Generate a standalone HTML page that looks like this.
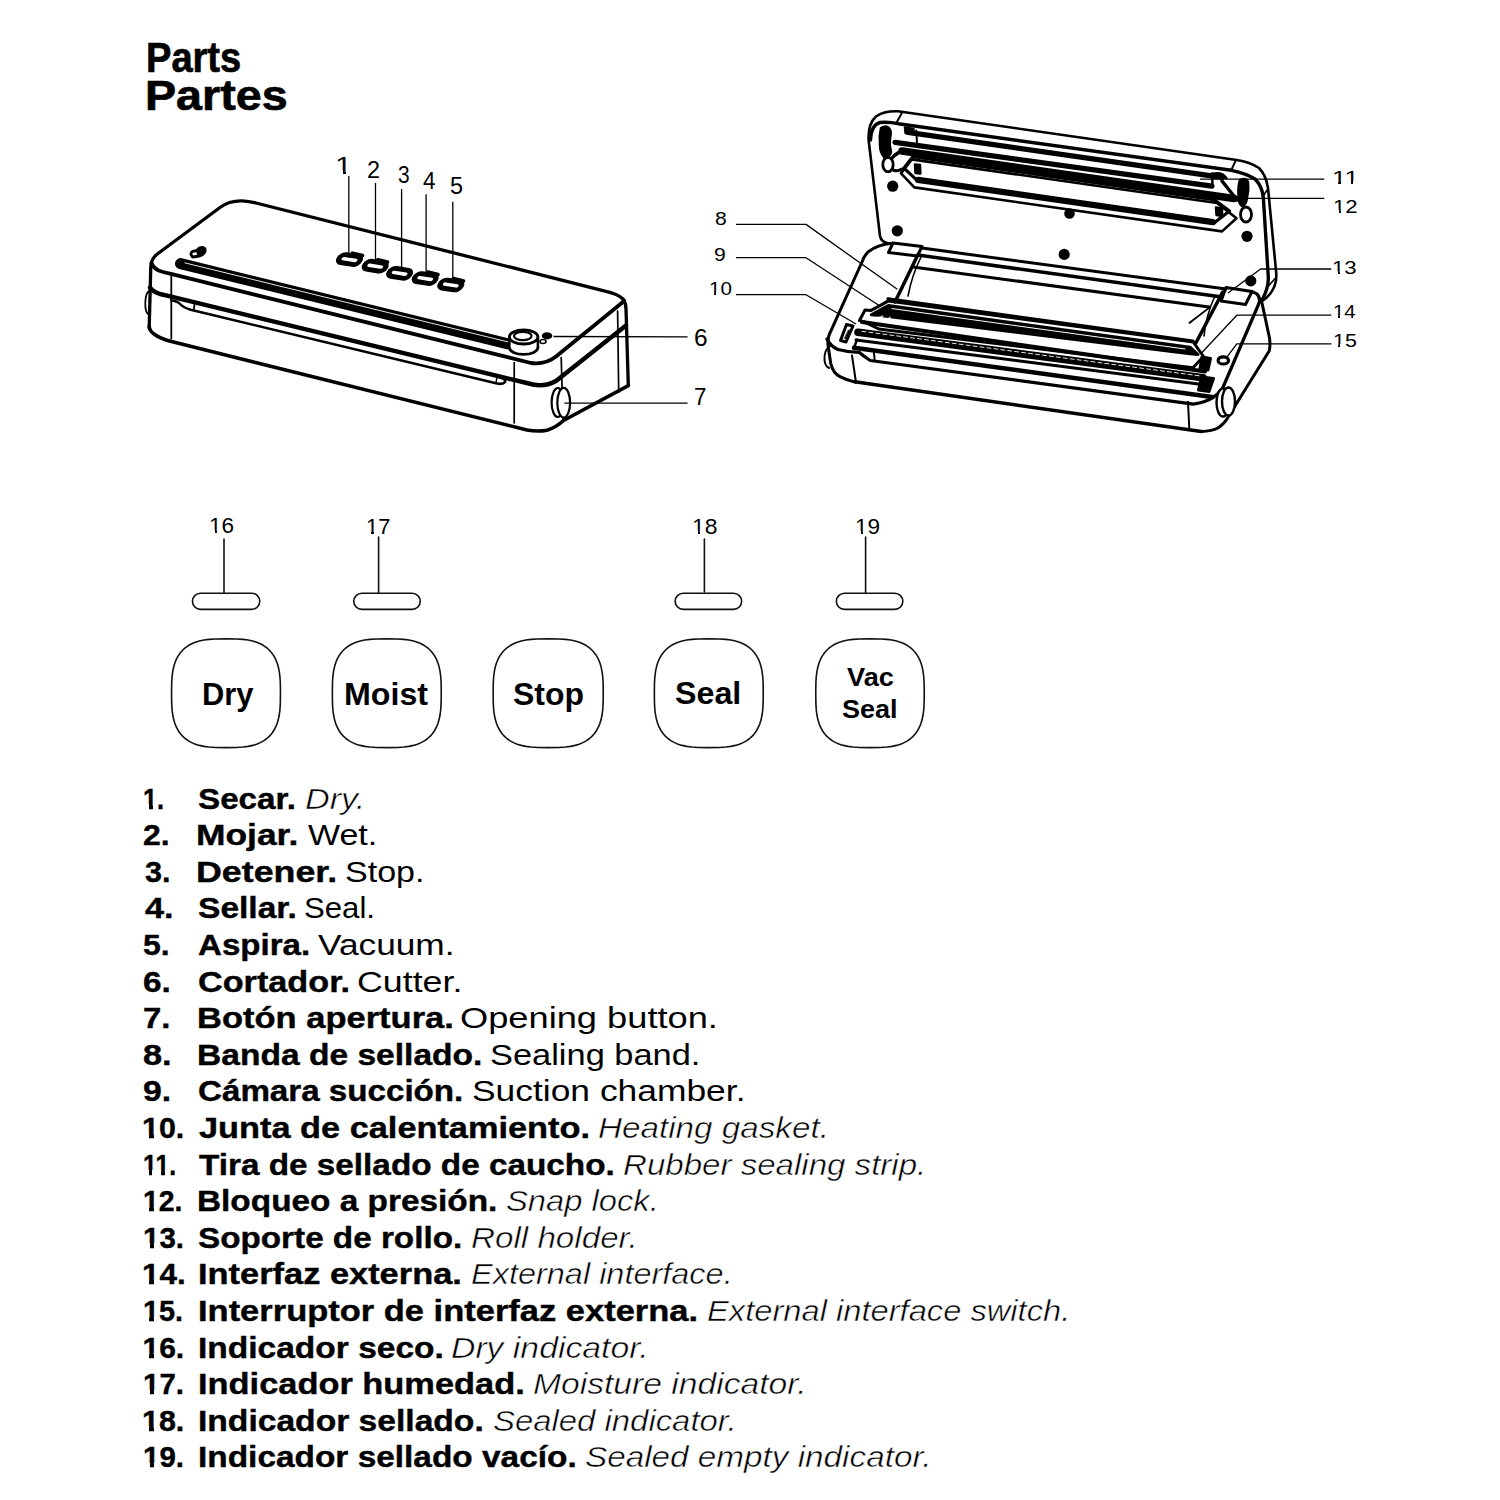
<!DOCTYPE html>
<html><head><meta charset="utf-8"><style>
html,body{margin:0;padding:0;background:#fff;}
body{width:1500px;height:1500px;position:relative;overflow:hidden;font-family:"Liberation Sans",sans-serif;color:#000;}
div{position:absolute;white-space:nowrap;transform-origin:0 0;line-height:0;height:0;}
i{position:absolute;display:block;background:#fff;}
svg{position:absolute;left:0;top:0;}
b{position:absolute;display:block;background:#fff;}
</style></head><body>
<svg width="1500" height="800" viewBox="0 0 1500 800" fill="none" stroke="#000" stroke-linecap="round" stroke-linejoin="round">
<g id="left">
<!-- outer top outline: left edge, back-left corner, back edge, back-right corner, right edge -->
<path d="M149.2,328 L150.8,266 Q151.5,258 158,253.5 L220,207.5 Q229,200.5 242,200.8 Q249,201 256,203 L606,291.3 Q618,294 623,299 Q626,303 626,309 L628.3,385.6" stroke-width="3.3"/>
<!-- bottom right diagonal and bottom edge -->
<path d="M628.3,385.6 L563.5,420.5 Q556,427.5 547,430.2 Q538,432 527,430 L171.5,341.5 Q160,338.5 154,334 Q149.5,331 149.2,326" stroke-width="3.6"/>
<!-- top front edge -->
<path d="M151.5,263 Q154,270 163,272 L172,274.2 L531,363 Q545,365 556,356.5 L620.5,304 Q622.5,302.5 624,300.5" stroke-width="3.8"/>
<!-- separation line -->
<path d="M150,287.5 Q153,292 160,294 L171.3,296.6 L533,384.5 Q545,387 556,381 L626,325.5" stroke-width="4.4"/>
<!-- bag slot -->
<path d="M171.3,300.2 Q177,301.3 179,303 Q183,307.5 190.7,309.8 L496,383.2 Q503,385 505,382 Q506,379 500,377.5" stroke-width="2.6"/>
<path d="M194.7,302.7 L194,308.7" stroke-width="1.8"/>
<path d="M497,377 L496,383" stroke-width="1.5"/>
<!-- verticals -->
<path d="M171.3,275 L171.3,338.5" stroke-width="1.8"/>
<path d="M514.2,362.5 L514.2,423" stroke-width="1.7"/>
<path d="M561.2,357.5 L563,421" stroke-width="1.7"/>
<path d="M617.6,311 L618.7,392" stroke-width="1.7"/>
<!-- left side bump button -->
<path d="M150.3,290.5 C144,292 143.5,313 149.5,315" stroke-width="1.8"/>
<!-- cutter slot band -->
<path d="M180.5,263.6 L508,343.8" stroke-width="11"/>
<path d="M185,262.9 L508,341.9" stroke="#fff" stroke-width="0.9"/>
<!-- cutter knob -->
<ellipse cx="523.6" cy="347.6" rx="14.3" ry="6.8" fill="#fff" stroke-width="2.8"/>
<rect x="509.3" y="337" width="28.6" height="10.6" fill="#fff" stroke="none"/>
<path d="M509.3,337 L509.3,347.6 M537.9,337 L537.9,347.6" stroke-width="2.6"/>
<ellipse cx="523.6" cy="337" rx="14.3" ry="7" fill="#fff" stroke-width="2.8"/>
<ellipse cx="522.8" cy="336" rx="8.8" ry="4.1" stroke-width="2.2"/>
<ellipse cx="547" cy="335.8" rx="5.3" ry="3.6" fill="#000" stroke="none"/>
<ellipse cx="543" cy="341.5" rx="3" ry="2" stroke-width="1.6"/>
<!-- opening button (7) -->
<ellipse cx="557.8" cy="402.5" rx="6.2" ry="14.5" fill="#fff" stroke-width="2.2"/>
<ellipse cx="563.7" cy="402.7" rx="6.4" ry="14.8" fill="#fff" stroke-width="2.2"/>
<!-- logo -->
<path d="M190.5,256.5 Q188,252.5 192,250 L196,249.2 Q199,245.3 203.5,246.2 Q207.5,247.5 206.3,252 Q205,256 199.5,257.5 L193,258.5 Q191.3,258.3 190.5,256.5Z" fill="#000" stroke="none"/>
<rect x="192.6" y="252.6" width="4.2" height="2.6" fill="#fff" stroke="none" transform="rotate(-12 194.7 253.9)"/>
<!-- control buttons -->
<g stroke-width="5">
<g transform="translate(349.5,259.6) rotate(9) skewX(-20)"><rect x="-10.3" y="-4.3" width="20.6" height="8.6" rx="4.3"/></g>
<g transform="translate(375.2,266.2) rotate(9) skewX(-20)"><rect x="-10.3" y="-4.3" width="20.6" height="8.6" rx="4.3"/></g>
<g transform="translate(399.6,273.3) rotate(9) skewX(-20)"><rect x="-10.3" y="-4.3" width="20.6" height="8.6" rx="4.3"/></g>
<g transform="translate(425.2,278.6) rotate(9) skewX(-20)"><rect x="-10.3" y="-4.3" width="20.6" height="8.6" rx="4.3"/></g>
<g transform="translate(450.8,285) rotate(9) skewX(-20)"><rect x="-10.3" y="-4.3" width="20.6" height="8.6" rx="4.3"/></g>
</g>
<g stroke-width="3.6">
<path d="M352.5,253.2 L362.5,255.5"/>
<path d="M377.8,259.8 L387.5,262"/>
<path d="M428,272 L438,274.5"/>
<path d="M453.5,278.5 L463.5,281"/>
</g>
<!-- leaders -->
<g stroke-width="1.3" stroke-linecap="butt">
<path d="M348.8,175 L348.8,257.7"/>
<path d="M375.5,183 L375.5,261"/>
<path d="M401.6,189 L401.6,268.4"/>
<path d="M426.1,194.3 L426.1,273.7"/>
<path d="M452.8,201.7 L452.8,280"/>
<path d="M553.6,336.5 L687.6,336.8"/>
<path d="M564.3,403.2 L687.6,403.1"/>
</g>
</g>
<g id="right">
<path d="M890,243.6 Q881,242.5 880,236 L868.6,140 Q867.8,124 876,116.5 Q884,110.8 898,111.3 L1236.7,160 Q1250,162 1259,168 Q1266,175 1268,188 L1276.3,273.7 Q1277,285 1270,294 Q1266,299 1261,302" stroke-width="2.6" />
<path d="M897,121.8 L901.7,113.3" stroke-width="2" />
<path d="M1231.3,170 L1235.3,161.3" stroke-width="2" />
<path d="M1262.5,197 L1267.5,189.5" stroke-width="1.6" />
<path d="M1268.5,286 L1275.5,278" stroke-width="1.6" />
<path d="M870.5,140 Q871,125 880,122.5 Q888,121.5 898.3,123.7 L1231.3,170.3 Q1246.7,173.5 1255,179 Q1262,186 1263.3,197 L1268.3,277 Q1268.8,288 1262,300" stroke-width="3.4" />
<path d="M908,132.4 L1222,177.3" stroke-width="5.3" />
<path d="M895,142.3 L1212,186.1" stroke-width="5.2" />
<path d="M1212,173.5 L1212.5,186" stroke-width="2.5" />
<path d="M902,151.0 L1234,198.5" stroke-width="7.5" />
<path d="M911.7,159.4 L1217,203.0 L1236.5,218.2 L1222,231.4 L914.3,187.4 L901,173.4 Z" stroke-width="2.6" />
<path d="M913,156.6 L1214,199.6 L1229.5,211.0 L1215,222.3 L916.3,179.6 L904,168.1 Z" stroke-width="3.2" />
<path d="M918,179.9 L1213,222.1" stroke-width="6.2" />
<path d="M915,164.5 L920,165 L920.3,173.5 L915.5,173 Z" stroke-width="2.5" fill="#000"/>
<path d="M1216,207.5 L1222,208.5 L1222,216 L1216.5,215 Z" stroke-width="2.5" fill="#000"/>
<path d="M881,128 Q886,125 889,128 Q892,132 890,138 Q889,145 891,152 Q889,158 884,157 Q880,152 880,145 Q879,136 881,128 Z" stroke-width="2.5" fill="#000"/>
<ellipse cx="888" cy="164.5" rx="5.2" ry="7.2" stroke-width="2.8"/>
<path d="M892,158 Q897,152 905,150.5" stroke-width="3.5" />
<path d="M893,170 Q898,172 902,169" stroke-width="3" />
<path d="M905,127.5 L913.5,129 L913,134 L905.5,133 Z" stroke-width="2.5" fill="#000"/>
<path d="M916.3,130.5 L917,143" stroke-width="2" />
<path d="M1240,180 Q1246,177 1248,182 Q1249,190 1247,198 Q1246,205 1242,206 Q1238,203 1238.5,195 Q1238,186 1240,180 Z" stroke-width="2.5" fill="#000"/>
<ellipse cx="1246" cy="214.5" rx="5.5" ry="7.5" stroke-width="2.8"/>
<path d="M1222,181 L1237,200" stroke-width="3.5" />
<path d="M1213,174 Q1222,172 1226,178" stroke-width="3" />
<circle cx="892.7" cy="186.2" r="5.6" fill="#000" stroke="none"/>
<circle cx="897.3" cy="230.8" r="5.6" fill="#000" stroke="none"/>
<circle cx="1069.5" cy="213.5" r="5.3" fill="#000" stroke="none"/>
<circle cx="1064.2" cy="254.4" r="5.6" fill="#000" stroke="none"/>
<circle cx="1247" cy="236.3" r="5.6" fill="#000" stroke="none"/>
<circle cx="1250.8" cy="280.9" r="5.6" fill="#000" stroke="none"/>
<path d="M892,243.3 Q877.3,244.7 868,252 Q864,256 862,262 L830.7,331.3 Q827.5,337 828,345 L830.7,363.3 Q833,373 840,376.7 Q846,380 854.7,382" stroke-width="3" />
<path d="M854.7,381.7 L1201.3,431.6" stroke-width="3.5" />
<path d="M1201.3,431.6 Q1212,431 1218,428 Q1225,423 1228,417.3 L1269.3,350.7 Q1270.5,345 1269.5,338 L1262,303" stroke-width="3" />
<path d="M827,339 Q830,346 838,349.5 Q848,352.2 859,352.3 Q864,356.5 870.3,360.5 L1193.3,404.1 Q1206,402 1213.3,397.3 Q1219,393.5 1222.7,388 L1258.7,304 Q1261,298 1257,294 Q1253,291.5 1250.7,291.7" stroke-width="3.2" />
<path d="M852,355.5 L856,382.5" stroke-width="2" />
<path d="M1188,401.8 L1189.3,429" stroke-width="2" />
<path d="M874,353 L874.6,359.5" stroke-width="2" />
<path d="M830,346 Q824,350 824.5,360 Q825,366 829,368" stroke-width="2" />
<path d="M893,243 L922,246.5 L917.5,256 L888.5,252.5 Z" stroke-width="3" fill="#fff"/>
<path d="M1226,287.5 L1252,291.5 L1245.5,304.5 L1221,301 Z" stroke-width="3" fill="#fff"/>
<path d="M922,248.1 L1226,289.1" stroke-width="3" />
<path d="M918,255.1 L1222,297.0" stroke-width="3.5" />
<path d="M913,267.0 L1209,306.9" stroke-width="3" />
<path d="M918,254.5 L895,302" stroke-width="3.5" />
<path d="M921,257 Q912,275 908,296" stroke-width="1.6" />
<path d="M1222.7,292 L1196,342.7" stroke-width="3.5" />
<path d="M1215,296 Q1206,315 1204,336" stroke-width="1.6" />
<path d="M1189.3,322.7 L1209.3,308" stroke-width="1.5" />
<path d="M888.3,300.9 Q880,306 871,310.4 L865,310 L859.5,320.5 L864.9,322.1 L878.7,329 L1193,367.8 L1203.5,356.5 L1193.3,342.1 Z" stroke-width="3" />
<path d="M888,298.9 L1193,341.0" stroke-width="3.2" />
<path d="M888.3,305.5 L1190,347.2 L1198,354.5 L1188,353.4 L880,315.4 L871.3,314.7 Z" stroke-width="3" fill="#000"/>
<path d="M892,308.6 L1185,349.0" stroke-width="1" stroke="#fff"/>
<path d="M876,318 L880,322 L883,316 Z M887,320 L892,324 L890,317 Z" stroke-width="0.5" fill="#fff" stroke="#fff"/>
<path d="M862,322.1 L1205,371.5" stroke-width="4" />
<path d="M858,332.3 L1203,377.8" stroke-width="7.5" />
<path d="M856,339.9 L1208,385.3" stroke-width="3" />
<path d="M854,347.7 L1212,397.1" stroke-width="4.5" />
<path d="M854,347.7 L857,339.7" stroke-width="2.5" />
<path d="M862,331.3 L1200,375.9" stroke-width="0.9" stroke="#fff" stroke-dasharray="4 3"/>
<path d="M846.5,324.5 L853,326 L846,342 L840.5,340.5 Z" stroke-width="3" fill="#fff"/>
<path d="M848.5,330 L851,330.5 L846.5,339 L844.5,338.5 Z" stroke-width="0.5" fill="#000"/>
<path d="M1202,357 L1210.5,358.5 L1208,370 L1200,368.5 Z" stroke-width="3" fill="#000"/>
<path d="M1201.5,377 L1213.5,378.5 L1209,391.5 L1198.5,390 Z" stroke-width="3" fill="#000"/>
<ellipse cx="1223.3" cy="360.4" rx="5.2" ry="3.6" stroke-width="3.2"/>
<ellipse cx="1223" cy="402.5" rx="6.5" ry="14" fill="#fff" stroke-width="2.4"/>
<ellipse cx="1228.5" cy="401.5" rx="6.5" ry="14" fill="#fff" stroke-width="2.4"/>
<path d="M1190,323 L1209,307.5" stroke-width="1.4" />
<path d="M736,224.4 L806,224.4 L897.3,289.3" stroke-width="1.3" stroke-linecap="butt"/>
<path d="M736,257.7 L806,257.7 L878.7,305.3" stroke-width="1.3" stroke-linecap="butt"/>
<path d="M736,294.7 L806,294.7 L856,324" stroke-width="1.3" stroke-linecap="butt"/>
<path d="M1200,179.2 L1324.3,179.2" stroke-width="1.3" stroke-linecap="butt"/>
<path d="M1246.3,198.3 L1324.3,198.3" stroke-width="1.3" stroke-linecap="butt"/>
<path d="M1228,293 L1260.6,269 L1331.3,269" stroke-width="1.3" stroke-linecap="butt"/>
<path d="M1201.3,353.3 L1236.8,315.2 L1331.3,315.2" stroke-width="1.3" stroke-linecap="butt"/>
<path d="M1226.7,357.3 L1236.8,343.9 L1331.3,343.9" stroke-width="1.3" stroke-linecap="butt"/>
</g>
<path d="M280.45,693.20 L280.31,703.89 L279.90,710.13 L279.21,715.29 L278.24,719.81 L276.99,723.84 L275.47,727.47 L273.67,730.75 L271.59,733.72 L269.22,736.38 L266.55,738.74 L263.59,740.83 L260.30,742.63 L256.66,744.15 L252.63,745.39 L248.11,746.36 L242.95,747.05 L236.70,747.46 L226.00,747.60 L215.30,747.46 L209.05,747.05 L203.89,746.36 L199.37,745.39 L195.34,744.15 L191.70,742.63 L188.41,740.83 L185.45,738.74 L182.78,736.38 L180.41,733.72 L178.33,730.75 L176.53,727.47 L175.01,723.84 L173.76,719.81 L172.79,715.29 L172.10,710.13 L171.69,703.89 L171.55,693.20 L171.69,682.51 L172.10,676.27 L172.79,671.11 L173.76,666.59 L175.01,662.56 L176.53,658.93 L178.33,655.65 L180.41,652.68 L182.78,650.02 L185.45,647.66 L188.41,645.57 L191.70,643.77 L195.34,642.25 L199.37,641.01 L203.89,640.04 L209.05,639.35 L215.30,638.94 L226.00,638.80 L236.70,638.94 L242.95,639.35 L248.11,640.04 L252.63,641.01 L256.66,642.25 L260.30,643.77 L263.59,645.57 L266.55,647.66 L269.22,650.02 L271.59,652.68 L273.67,655.65 L275.47,658.93 L276.99,662.56 L278.24,666.59 L279.21,671.11 L279.90,676.27 L280.31,682.51Z" fill="none" stroke="#111" stroke-width="1.6"/>
<path d="M441.25,693.20 L441.11,703.89 L440.70,710.13 L440.01,715.29 L439.04,719.81 L437.79,723.84 L436.27,727.47 L434.47,730.75 L432.39,733.72 L430.02,736.38 L427.35,738.74 L424.39,740.83 L421.10,742.63 L417.46,744.15 L413.43,745.39 L408.91,746.36 L403.75,747.05 L397.50,747.46 L386.80,747.60 L376.10,747.46 L369.85,747.05 L364.69,746.36 L360.17,745.39 L356.14,744.15 L352.50,742.63 L349.21,740.83 L346.25,738.74 L343.58,736.38 L341.21,733.72 L339.13,730.75 L337.33,727.47 L335.81,723.84 L334.56,719.81 L333.59,715.29 L332.90,710.13 L332.49,703.89 L332.35,693.20 L332.49,682.51 L332.90,676.27 L333.59,671.11 L334.56,666.59 L335.81,662.56 L337.33,658.93 L339.13,655.65 L341.21,652.68 L343.58,650.02 L346.25,647.66 L349.21,645.57 L352.50,643.77 L356.14,642.25 L360.17,641.01 L364.69,640.04 L369.85,639.35 L376.10,638.94 L386.80,638.80 L397.50,638.94 L403.75,639.35 L408.91,640.04 L413.43,641.01 L417.46,642.25 L421.10,643.77 L424.39,645.57 L427.35,647.66 L430.02,650.02 L432.39,652.68 L434.47,655.65 L436.27,658.93 L437.79,662.56 L439.04,666.59 L440.01,671.11 L440.70,676.27 L441.11,682.51Z" fill="none" stroke="#111" stroke-width="1.6"/>
<path d="M603.25,693.20 L603.11,703.89 L602.69,710.13 L601.99,715.29 L601.01,719.81 L599.76,723.84 L598.22,727.47 L596.39,730.75 L594.29,733.72 L591.89,736.38 L589.20,738.74 L586.20,740.83 L582.88,742.63 L579.20,744.15 L575.12,745.39 L570.56,746.36 L565.33,747.05 L559.02,747.46 L548.20,747.60 L537.38,747.46 L531.07,747.05 L525.84,746.36 L521.28,745.39 L517.20,744.15 L513.52,742.63 L510.20,740.83 L507.20,738.74 L504.51,736.38 L502.11,733.72 L500.01,730.75 L498.18,727.47 L496.64,723.84 L495.39,719.81 L494.41,715.29 L493.71,710.13 L493.29,703.89 L493.15,693.20 L493.29,682.51 L493.71,676.27 L494.41,671.11 L495.39,666.59 L496.64,662.56 L498.18,658.93 L500.01,655.65 L502.11,652.68 L504.51,650.02 L507.20,647.66 L510.20,645.57 L513.52,643.77 L517.20,642.25 L521.28,641.01 L525.84,640.04 L531.07,639.35 L537.38,638.94 L548.20,638.80 L559.02,638.94 L565.33,639.35 L570.56,640.04 L575.12,641.01 L579.20,642.25 L582.88,643.77 L586.20,645.57 L589.20,647.66 L591.89,650.02 L594.29,652.68 L596.39,655.65 L598.22,658.93 L599.76,662.56 L601.01,666.59 L601.99,671.11 L602.69,676.27 L603.11,682.51Z" fill="none" stroke="#111" stroke-width="1.6"/>
<path d="M763.25,693.20 L763.11,703.89 L762.70,710.13 L762.01,715.29 L761.04,719.81 L759.79,723.84 L758.27,727.47 L756.47,730.75 L754.39,733.72 L752.02,736.38 L749.35,738.74 L746.39,740.83 L743.10,742.63 L739.46,744.15 L735.43,745.39 L730.91,746.36 L725.75,747.05 L719.50,747.46 L708.80,747.60 L698.10,747.46 L691.85,747.05 L686.69,746.36 L682.17,745.39 L678.14,744.15 L674.50,742.63 L671.21,740.83 L668.25,738.74 L665.58,736.38 L663.21,733.72 L661.13,730.75 L659.33,727.47 L657.81,723.84 L656.56,719.81 L655.59,715.29 L654.90,710.13 L654.49,703.89 L654.35,693.20 L654.49,682.51 L654.90,676.27 L655.59,671.11 L656.56,666.59 L657.81,662.56 L659.33,658.93 L661.13,655.65 L663.21,652.68 L665.58,650.02 L668.25,647.66 L671.21,645.57 L674.50,643.77 L678.14,642.25 L682.17,641.01 L686.69,640.04 L691.85,639.35 L698.10,638.94 L708.80,638.80 L719.50,638.94 L725.75,639.35 L730.91,640.04 L735.43,641.01 L739.46,642.25 L743.10,643.77 L746.39,645.57 L749.35,647.66 L752.02,650.02 L754.39,652.68 L756.47,655.65 L758.27,658.93 L759.79,662.56 L761.04,666.59 L762.01,671.11 L762.70,676.27 L763.11,682.51Z" fill="none" stroke="#111" stroke-width="1.6"/>
<path d="M924.25,693.20 L924.11,703.89 L923.70,710.13 L923.01,715.29 L922.05,719.81 L920.81,723.84 L919.29,727.47 L917.49,730.75 L915.42,733.72 L913.06,736.38 L910.41,738.74 L907.45,740.83 L904.18,742.63 L900.55,744.15 L896.53,745.39 L892.03,746.36 L886.89,747.05 L880.66,747.46 L870.00,747.60 L859.34,747.46 L853.11,747.05 L847.97,746.36 L843.47,745.39 L839.45,744.15 L835.82,742.63 L832.55,740.83 L829.59,738.74 L826.94,736.38 L824.58,733.72 L822.51,730.75 L820.71,727.47 L819.19,723.84 L817.95,719.81 L816.99,715.29 L816.30,710.13 L815.89,703.89 L815.75,693.20 L815.89,682.51 L816.30,676.27 L816.99,671.11 L817.95,666.59 L819.19,662.56 L820.71,658.93 L822.51,655.65 L824.58,652.68 L826.94,650.02 L829.59,647.66 L832.55,645.57 L835.82,643.77 L839.45,642.25 L843.47,641.01 L847.97,640.04 L853.11,639.35 L859.34,638.94 L870.00,638.80 L880.66,638.94 L886.89,639.35 L892.03,640.04 L896.53,641.01 L900.55,642.25 L904.18,643.77 L907.45,645.57 L910.41,647.66 L913.06,650.02 L915.42,652.68 L917.49,655.65 L919.29,658.93 L920.81,662.56 L922.05,666.59 L923.01,671.11 L923.70,676.27 L924.11,682.51Z" fill="none" stroke="#111" stroke-width="1.6"/>
<rect x="192.45" y="593.2" width="67.30" height="16.2" rx="8.1" fill="none" stroke="#111" stroke-width="1.6"/>
<rect x="353.75" y="593.2" width="66.50" height="16.2" rx="8.1" fill="none" stroke="#111" stroke-width="1.6"/>
<rect x="675.15" y="593.2" width="66.50" height="16.2" rx="8.1" fill="none" stroke="#111" stroke-width="1.6"/>
<rect x="836.35" y="593.2" width="66.50" height="16.2" rx="8.1" fill="none" stroke="#111" stroke-width="1.6"/>
<line x1="224" y1="539" x2="224" y2="593" stroke="#111" stroke-width="1.6"/>
<line x1="378.6" y1="537" x2="378.6" y2="593" stroke="#111" stroke-width="1.6"/>
<line x1="704.4" y1="539" x2="704.4" y2="592" stroke="#111" stroke-width="1.6"/>
<line x1="865.6" y1="537" x2="865.6" y2="593" stroke="#111" stroke-width="1.6"/>
</svg>
<div style="left:142.81px;top:798.61px;font-size:30px;font-weight:bold;transform:scaleX(0.8455);-webkit-text-stroke:0.4px #000;">1.</div>
<div style="left:197.69px;top:798.61px;font-size:30px;font-weight:bold;transform:scaleX(1.1070);-webkit-text-stroke:0.4px #000;">Secar.</div>
<div style="left:304.86px;top:798.61px;font-size:30px;font-style:italic;transform:scaleX(1.1396);-webkit-text-stroke:0.5px #fff;">Dry.</div>
<div style="left:143.43px;top:835.21px;font-size:30px;font-weight:bold;transform:scaleX(1.0652);-webkit-text-stroke:0.4px #000;">2.</div>
<div style="left:196.44px;top:835.21px;font-size:30px;font-weight:bold;transform:scaleX(1.1795);-webkit-text-stroke:0.4px #000;">Mojar.</div>
<div style="left:308.00px;top:835.21px;font-size:30px;transform:scaleX(1.1322);">Wet.</div>
<div style="left:144.50px;top:871.81px;font-size:30px;font-weight:bold;transform:scaleX(1.0208);-webkit-text-stroke:0.4px #000;">3.</div>
<div style="left:196.41px;top:871.81px;font-size:30px;font-weight:bold;transform:scaleX(1.1930);-webkit-text-stroke:0.4px #000;">Detener.</div>
<div style="left:344.87px;top:871.81px;font-size:30px;transform:scaleX(1.1343);">Stop.</div>
<div style="left:144.50px;top:908.40px;font-size:30px;font-weight:bold;transform:scaleX(1.1417);-webkit-text-stroke:0.4px #000;">4.</div>
<div style="left:197.68px;top:908.40px;font-size:30px;font-weight:bold;transform:scaleX(1.1186);-webkit-text-stroke:0.4px #000;">Sellar.</div>
<div style="left:304.46px;top:908.40px;font-size:30px;transform:scaleX(1.0385);">Seal.</div>
<div style="left:143.43px;top:945.00px;font-size:30px;font-weight:bold;transform:scaleX(1.0652);-webkit-text-stroke:0.4px #000;">5.</div>
<div style="left:197.70px;top:945.00px;font-size:30px;font-weight:bold;transform:scaleX(1.1030);-webkit-text-stroke:0.4px #000;">Aspira.</div>
<div style="left:318.00px;top:945.00px;font-size:30px;transform:scaleX(1.1754);">Vacuum.</div>
<div style="left:143.39px;top:981.61px;font-size:30px;font-weight:bold;transform:scaleX(1.1130);-webkit-text-stroke:0.4px #000;">6.</div>
<div style="left:197.86px;top:981.61px;font-size:30px;font-weight:bold;transform:scaleX(1.1405);-webkit-text-stroke:0.4px #000;">Cortador.</div>
<div style="left:356.51px;top:981.61px;font-size:30px;transform:scaleX(1.1918);">Cutter.</div>
<div style="left:143.40px;top:1018.20px;font-size:30px;font-weight:bold;transform:scaleX(1.0957);-webkit-text-stroke:0.4px #000;">7.</div>
<div style="left:196.70px;top:1018.20px;font-size:30px;font-weight:bold;transform:scaleX(1.1500);-webkit-text-stroke:0.4px #000;">Botón apertura.</div>
<div style="left:459.79px;top:1018.20px;font-size:30px;transform:scaleX(1.2081);">Opening button.</div>
<div style="left:143.36px;top:1054.81px;font-size:30px;font-weight:bold;transform:scaleX(1.1435);-webkit-text-stroke:0.4px #000;">8.</div>
<div style="left:196.76px;top:1054.81px;font-size:30px;font-weight:bold;transform:scaleX(1.1190);-webkit-text-stroke:0.4px #000;">Banda de sellado.</div>
<div style="left:490.45px;top:1054.81px;font-size:30px;transform:scaleX(1.1467);">Sealing band.</div>
<div style="left:143.37px;top:1091.40px;font-size:30px;font-weight:bold;transform:scaleX(1.1261);-webkit-text-stroke:0.4px #000;">9.</div>
<div style="left:197.89px;top:1091.40px;font-size:30px;font-weight:bold;transform:scaleX(1.1050);-webkit-text-stroke:0.4px #000;">Cámara succión.</div>
<div style="left:471.82px;top:1091.40px;font-size:30px;transform:scaleX(1.1798);">Suction chamber.</div>
<div style="left:142.47px;top:1128.01px;font-size:30px;font-weight:bold;transform:scaleX(1.0132);-webkit-text-stroke:0.4px #000;">10.</div>
<div style="left:199.00px;top:1128.01px;font-size:30px;font-weight:bold;transform:scaleX(1.1441);-webkit-text-stroke:0.4px #000;">Junta de calentamiento.</div>
<div style="left:597.89px;top:1128.01px;font-size:30px;font-style:italic;transform:scaleX(1.1078);-webkit-text-stroke:0.5px #fff;">Heating gasket.</div>
<div style="left:142.85px;top:1164.61px;font-size:30px;font-weight:bold;transform:scaleX(0.8243);-webkit-text-stroke:0.4px #000;">11.</div>
<div style="left:199.00px;top:1164.61px;font-size:30px;font-weight:bold;transform:scaleX(1.1099);-webkit-text-stroke:0.4px #000;">Tira de sellado de caucho.</div>
<div style="left:622.90px;top:1164.61px;font-size:30px;font-style:italic;transform:scaleX(1.1022);-webkit-text-stroke:0.5px #fff;">Rubber sealing strip.</div>
<div style="left:142.61px;top:1201.20px;font-size:30px;font-weight:bold;transform:scaleX(0.9474);-webkit-text-stroke:0.4px #000;">12.</div>
<div style="left:196.78px;top:1201.20px;font-size:30px;font-weight:bold;transform:scaleX(1.1124);-webkit-text-stroke:0.4px #000;">Bloqueo a presión.</div>
<div style="left:505.71px;top:1201.20px;font-size:30px;font-style:italic;transform:scaleX(1.0904);-webkit-text-stroke:0.5px #fff;">Snap lock.</div>
<div style="left:142.54px;top:1237.81px;font-size:30px;font-weight:bold;transform:scaleX(0.9816);-webkit-text-stroke:0.4px #000;">13.</div>
<div style="left:197.89px;top:1237.81px;font-size:30px;font-weight:bold;transform:scaleX(1.1085);-webkit-text-stroke:0.4px #000;">Soporte de rollo.</div>
<div style="left:470.89px;top:1237.81px;font-size:30px;font-style:italic;transform:scaleX(1.1062);-webkit-text-stroke:0.5px #fff;">Roll holder.</div>
<div style="left:142.41px;top:1274.40px;font-size:30px;font-weight:bold;transform:scaleX(1.0474);-webkit-text-stroke:0.4px #000;">14.</div>
<div style="left:198.01px;top:1274.40px;font-size:30px;font-weight:bold;transform:scaleX(1.1467);-webkit-text-stroke:0.4px #000;">Interfaz externa.</div>
<div style="left:470.92px;top:1274.40px;font-size:30px;font-style:italic;transform:scaleX(1.0823);-webkit-text-stroke:0.5px #fff;">External interface.</div>
<div style="left:142.58px;top:1311.01px;font-size:30px;font-weight:bold;transform:scaleX(0.9605);-webkit-text-stroke:0.4px #000;">15.</div>
<div style="left:198.00px;top:1311.01px;font-size:30px;font-weight:bold;transform:scaleX(1.1493);-webkit-text-stroke:0.4px #000;">Interruptor de interfaz externa.</div>
<div style="left:706.51px;top:1311.01px;font-size:30px;font-style:italic;transform:scaleX(1.0894);-webkit-text-stroke:0.5px #fff;">External interface switch.</div>
<div style="left:142.49px;top:1347.61px;font-size:30px;font-weight:bold;-webkit-text-stroke:0.4px #000;">16.</div>
<div style="left:198.07px;top:1347.61px;font-size:30px;font-weight:bold;transform:scaleX(1.1171);-webkit-text-stroke:0.4px #000;">Indicador seco.</div>
<div style="left:451.47px;top:1347.61px;font-size:30px;font-style:italic;transform:scaleX(1.1251);-webkit-text-stroke:0.5px #fff;">Dry indicator.</div>
<div style="left:142.54px;top:1384.20px;font-size:30px;font-weight:bold;transform:scaleX(0.9816);-webkit-text-stroke:0.4px #000;">17.</div>
<div style="left:198.01px;top:1384.20px;font-size:30px;font-weight:bold;transform:scaleX(1.1465);-webkit-text-stroke:0.4px #000;">Indicador humedad.</div>
<div style="left:533.48px;top:1384.20px;font-size:30px;font-style:italic;transform:scaleX(1.1209);-webkit-text-stroke:0.5px #fff;">Moisture indicator.</div>
<div style="left:142.47px;top:1420.81px;font-size:30px;font-weight:bold;transform:scaleX(1.0132);-webkit-text-stroke:0.4px #000;">18.</div>
<div style="left:198.06px;top:1420.81px;font-size:30px;font-weight:bold;transform:scaleX(1.1202);-webkit-text-stroke:0.4px #000;">Indicador sellado.</div>
<div style="left:492.50px;top:1420.81px;font-size:30px;font-style:italic;transform:scaleX(1.0959);-webkit-text-stroke:0.5px #fff;">Sealed indicator.</div>
<div style="left:142.54px;top:1457.41px;font-size:30px;font-weight:bold;transform:scaleX(0.9816);-webkit-text-stroke:0.4px #000;">19.</div>
<div style="left:198.07px;top:1457.41px;font-size:30px;font-weight:bold;transform:scaleX(1.1136);-webkit-text-stroke:0.4px #000;">Indicador sellado vacío.</div>
<div style="left:585.39px;top:1457.41px;font-size:30px;font-style:italic;transform:scaleX(1.1091);-webkit-text-stroke:0.5px #fff;">Sealed empty indicator.</div>
<div style="left:145.83px;top:56.90px;font-size:43px;font-weight:bold;transform:scaleX(0.8848);-webkit-text-stroke:0.7px #000;">Parts</div>
<div style="left:145.43px;top:95.30px;font-size:43px;font-weight:bold;transform:scaleX(1.0844);-webkit-text-stroke:0.7px #000;">Partes</div>
<div style="left:334.93px;top:165.53px;font-size:23px;transform:scaleX(1.3333);">1</div>
<div style="left:367.48px;top:170.03px;font-size:23px;transform:scaleX(1.0182);">2</div>
<div style="left:398.09px;top:174.53px;font-size:23px;transform:scaleX(0.9091);">3</div>
<div style="left:423.00px;top:181.03px;font-size:23px;transform:scaleX(0.9750);">4</div>
<div style="left:450.18px;top:185.73px;font-size:23px;transform:scaleX(1.0182);">5</div>
<div style="left:694.24px;top:337.63px;font-size:23px;transform:scaleX(1.0636);">6</div>
<div style="left:694.33px;top:397.03px;font-size:23px;transform:scaleX(0.9727);">7</div>
<div style="left:714.89px;top:219.42px;font-size:19px;transform:scaleX(1.1111);">8</div>
<div style="left:714.19px;top:255.42px;font-size:19px;transform:scaleX(1.1111);">9</div>
<div style="left:708.53px;top:289.42px;font-size:19px;transform:scaleX(1.0842);">10</div>
<div style="left:1332.09px;top:177.72px;font-size:19px;transform:scaleX(1.3533);">11</div>
<div style="left:1333.17px;top:207.12px;font-size:19px;transform:scaleX(1.1667);">12</div>
<div style="left:1332.47px;top:267.72px;font-size:19px;transform:scaleX(1.1667);">13</div>
<div style="left:1332.66px;top:312.12px;font-size:19px;transform:scaleX(1.0684);">14</div>
<div style="left:1333.24px;top:340.82px;font-size:19px;transform:scaleX(1.1278);">15</div>
<div style="left:208.70px;top:526.05px;font-size:21.5px;transform:scaleX(1.0476);">16</div>
<div style="left:365.56px;top:526.55px;font-size:21.5px;transform:scaleX(1.0190);">17</div>
<div style="left:691.87px;top:526.55px;font-size:21.5px;transform:scaleX(1.0667);">18</div>
<div style="left:854.90px;top:526.55px;font-size:21.5px;transform:scaleX(1.0476);">19</div>
<div style="left:201.71px;top:695.06px;font-size:31px;font-weight:bold;transform:scaleX(0.9960);">Dry</div>
<div style="left:343.92px;top:694.86px;font-size:31px;font-weight:bold;transform:scaleX(1.0380);">Moist</div>
<div style="left:512.97px;top:694.86px;font-size:31px;font-weight:bold;transform:scaleX(1.0299);">Stop</div>
<div style="left:674.56px;top:693.66px;font-size:31px;font-weight:bold;transform:scaleX(1.0393);">Seal</div>
<div style="left:847.00px;top:676.99px;font-size:26px;font-weight:bold;transform:scaleX(1.0455);">Vac</div>
<div style="left:841.96px;top:709.39px;font-size:26px;font-weight:bold;transform:scaleX(1.0392);">Seal</div>
<b style="left:142.30px;top:804.11px;width:6.70px;height:6.95px"></b>
<b style="left:153.00px;top:804.11px;width:4.21px;height:6.95px"></b>
<b style="left:141.97px;top:1133.50px;width:7.03px;height:6.95px"></b>
<b style="left:154.00px;top:1133.50px;width:5.68px;height:6.95px"></b>
<b style="left:142.34px;top:1170.11px;width:6.66px;height:6.95px"></b>
<b style="left:152.00px;top:1170.11px;width:3.53px;height:6.95px"></b>
<b style="left:154.72px;top:1170.11px;width:6.28px;height:6.95px"></b>
<b style="left:165.00px;top:1170.11px;width:4.29px;height:6.95px"></b>
<b style="left:142.11px;top:1206.69px;width:6.89px;height:6.95px"></b>
<b style="left:154.00px;top:1206.69px;width:4.72px;height:6.95px"></b>
<b style="left:142.03px;top:1243.30px;width:7.97px;height:6.95px"></b>
<b style="left:154.00px;top:1243.30px;width:5.21px;height:6.95px"></b>
<b style="left:141.91px;top:1279.89px;width:7.09px;height:6.95px"></b>
<b style="left:154.00px;top:1279.89px;width:6.18px;height:6.95px"></b>
<b style="left:142.08px;top:1316.50px;width:6.92px;height:6.95px"></b>
<b style="left:154.00px;top:1316.50px;width:4.91px;height:6.95px"></b>
<b style="left:141.98px;top:1353.11px;width:7.02px;height:6.95px"></b>
<b style="left:154.00px;top:1353.11px;width:5.47px;height:6.95px"></b>
<b style="left:142.03px;top:1389.69px;width:7.97px;height:6.95px"></b>
<b style="left:154.00px;top:1389.69px;width:5.21px;height:6.95px"></b>
<b style="left:141.97px;top:1426.30px;width:7.03px;height:6.95px"></b>
<b style="left:154.00px;top:1426.30px;width:5.68px;height:6.95px"></b>
<b style="left:142.03px;top:1462.91px;width:7.97px;height:6.95px"></b>
<b style="left:154.00px;top:1462.91px;width:5.21px;height:6.95px"></b>
<b style="left:334.42px;top:169.99px;width:8.58px;height:5.64px"></b>
<b style="left:346.00px;top:169.99px;width:6.28px;height:5.64px"></b>
<b style="left:708.02px;top:292.58px;width:5.98px;height:5.32px"></b>
<b style="left:716.00px;top:292.58px;width:4.28px;height:5.32px"></b>
<b style="left:1331.58px;top:180.89px;width:6.42px;height:5.32px"></b>
<b style="left:1341.00px;top:180.89px;width:3.79px;height:5.32px"></b>
<b style="left:1343.97px;top:180.89px;width:7.03px;height:5.32px"></b>
<b style="left:1353.00px;top:180.89px;width:6.08px;height:5.32px"></b>
<b style="left:1332.66px;top:210.28px;width:6.34px;height:5.32px"></b>
<b style="left:1341.00px;top:210.28px;width:4.80px;height:5.32px"></b>
<b style="left:1331.97px;top:270.89px;width:6.03px;height:5.32px"></b>
<b style="left:1340.00px;top:270.89px;width:5.11px;height:5.32px"></b>
<b style="left:1332.16px;top:315.28px;width:5.84px;height:5.32px"></b>
<b style="left:1340.00px;top:315.28px;width:4.26px;height:5.32px"></b>
<b style="left:1332.73px;top:343.99px;width:5.27px;height:5.32px"></b>
<b style="left:1340.00px;top:343.99px;width:5.46px;height:5.32px"></b>
<b style="left:208.19px;top:530.28px;width:6.81px;height:5.52px"></b>
<b style="left:217.00px;top:530.28px;width:4.53px;height:5.52px"></b>
<b style="left:365.05px;top:530.78px;width:5.95px;height:5.52px"></b>
<b style="left:374.00px;top:530.78px;width:4.04px;height:5.52px"></b>
<b style="left:691.36px;top:530.78px;width:6.64px;height:5.52px"></b>
<b style="left:700.00px;top:530.78px;width:4.93px;height:5.52px"></b>
<b style="left:854.39px;top:530.78px;width:6.61px;height:5.52px"></b>
<b style="left:863.00px;top:530.78px;width:4.73px;height:5.52px"></b>
</body></html>
